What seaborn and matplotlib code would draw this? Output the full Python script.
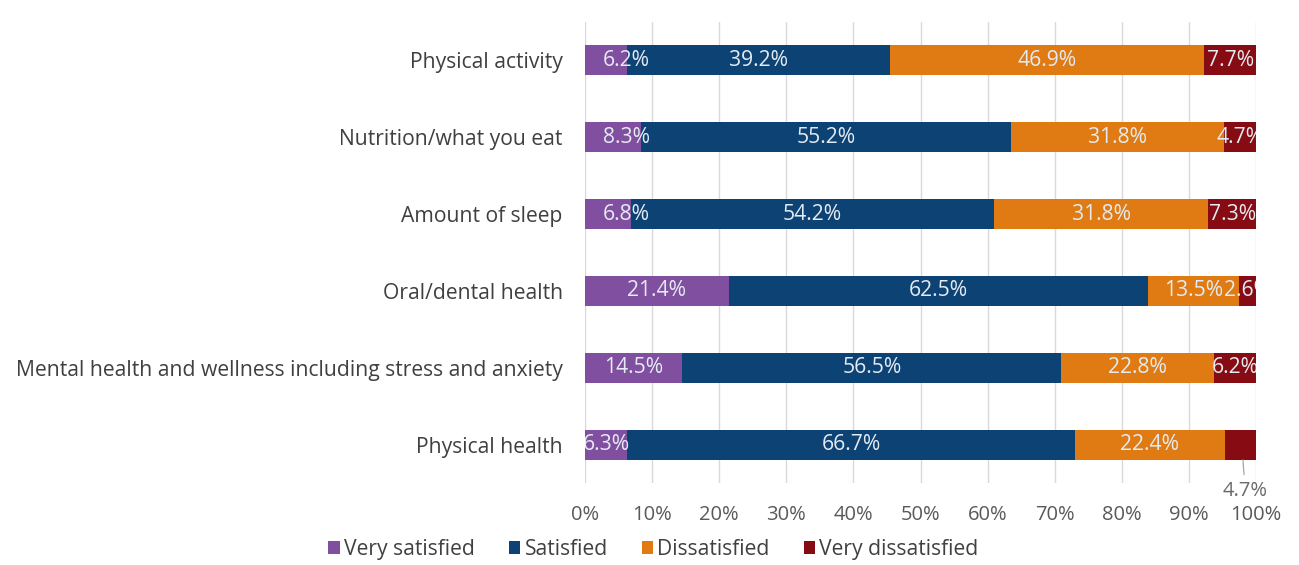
import numpy as np
import pandas as pd
import matplotlib
matplotlib.use("Agg")
import matplotlib.pyplot as plt
import seaborn as sns
from matplotlib.patches import Patch

categories = [
    "Physical activity",
    "Nutrition/what you eat",
    "Amount of sleep",
    "Oral/dental health",
    "Mental health and wellness including stress and anxiety",
    "Physical health",
]
series_names = ["Very satisfied", "Satisfied", "Dissatisfied", "Very dissatisfied"]
very_satisfied = [6.2, 8.3, 6.8, 21.4, 14.5, 6.3]
satisfied = [39.2, 55.2, 54.2, 62.5, 56.5, 66.7]
dissatisfied = [46.9, 31.8, 31.8, 13.5, 22.8, 22.4]
very_dissatisfied = [7.7, 4.7, 7.3, 2.6, 6.2, 4.7]
x_ticks = [0, 10, 20, 30, 40, 50, 60, 70, 80, 90, 100]
x_tick_labels = ["0%", "10%", "20%", "30%", "40%", "50%", "60%", "70%", "80%", "90%", "100%"]

colors = ["#814f9f", "#0d4274", "#df7b12", "#860b12"]
label_color = "#e4ebf2"
text_gray = "#404040"
fs = 14.5
fs_cat = 15.2
fs_bar = 15.2

sns.set_theme(style="white")
plt.rcParams["font.family"] = ["Open Sans", "DejaVu Sans"]

series = [very_satisfied, satisfied, dissatisfied, very_dissatisfied]
df = pd.DataFrame({"category": categories})
for name, vals in zip(series_names, series):
    df[name] = vals
cum = df[series_names].cumsum(axis=1)
cum["category"] = categories

fig = plt.figure(figsize=(12.99, 5.65), dpi=100)
ax = fig.add_axes([0.4504, 0.1451, 0.5165, 0.8159])

# stacked bars: draw cumulative totals from the outermost segment inward
for name, color in reversed(list(zip(series_names, colors))):
    sns.barplot(data=cum, x=name, y="category", orient="h", color=color,
                width=0.39, saturation=1, edgecolor="none", ax=ax, zorder=3)

ax.set_xlim(0, 100)
ax.set_ylim(5.5, -0.5)
ax.set_xticks(x_ticks)
ax.set_xticklabels(x_tick_labels)
ax.set_xlabel("")
ax.set_ylabel("")
ax.grid(axis="x", color="#d9d9d9", linewidth=1.0, zorder=0)
ax.grid(axis="y", visible=False)
for s in ax.spines.values():
    s.set_visible(False)
ax.tick_params(axis="x", length=0, pad=16, labelsize=fs, labelcolor="#595959")
ax.tick_params(axis="y", length=0, pad=16, labelsize=fs_cat, labelcolor=text_gray)

# segment labels
left_anchor = [True, True, True, False, False, False]
for i in range(len(categories)):
    start = 0.0
    for j, vals in enumerate(series):
        v = vals[i]
        txt = f"{v:.1f}%"
        if i == len(categories) - 1 and j == 3:
            # small end segment labelled below the bar with a leader line
            ax.annotate(txt, xy=(start + v / 2 + 0.3, i + 0.2), xytext=(98.4, i + 0.6),
                        ha="center", va="center", fontsize=fs, color="#6a6a6a",
                        arrowprops=dict(arrowstyle="-", color="#a6a6a6", lw=0.9,
                                        shrinkA=2, shrinkB=0),
                        annotation_clip=False, zorder=5)
        elif j == 0 and left_anchor[i]:
            ax.text(2.6, i, txt, ha="left", va="center", fontsize=fs_bar,
                    color=label_color, zorder=5, clip_on=True)
        else:
            ax.text(start + v / 2, i, txt, ha="center", va="center", fontsize=fs_bar,
                    color=label_color, zorder=5, clip_on=True)
        start += v

handles = [Patch(facecolor=c, edgecolor="none") for c in colors]
fig.legend(handles, series_names, loc="center", bbox_to_anchor=(0.503, 0.027),
           ncol=4, frameon=False, fontsize=fs_cat, handlelength=0.55, handleheight=0.55,
           handletextpad=0.2, columnspacing=1.6, labelcolor=text_gray)

fig.savefig("out.png", dpi=100)
